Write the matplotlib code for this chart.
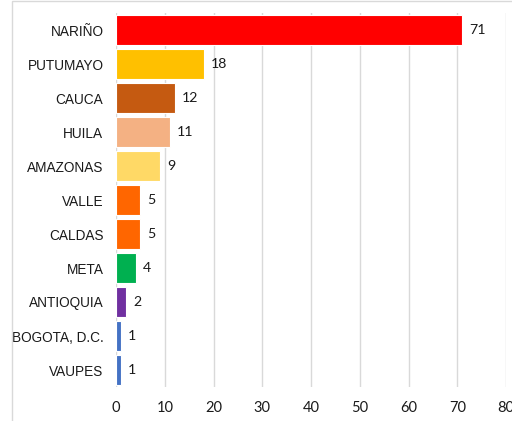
import matplotlib.pyplot as plt
from matplotlib.patches import Rectangle

# data
departamentos = ['NARIÑO', 'PUTUMAYO', 'CAUCA', 'HUILA', 'AMAZONAS', 'VALLE',
                 'CALDAS', 'META', 'ANTIOQUIA', 'BOGOTA, D.C.', 'VAUPES']
casos = [71, 18, 12, 11, 9, 5, 5, 4, 2, 1, 1]
colores = ['#FF0000', '#FFC000', '#C55A11', '#F4B183', '#FFD966', '#FF6600',
           '#FF6600', '#00B050', '#7030A0', '#4472C4', '#4472C4']
xticks = [0, 10, 20, 30, 40, 50, 60, 70, 80]

fig = plt.figure(figsize=(5.12, 4.21), dpi=100)
ax = fig.add_axes([116/512, 1 - 387/421, (506-116)/512, (387-13)/421])

pos = list(range(len(departamentos)))
ax.barh(pos, casos, height=0.9, color=colores, edgecolor='white', linewidth=0.8, zorder=3)

# value labels next to each bar
for p, v in zip(pos, casos):
    ax.text(v + 1.5, p, str(v), va='center', ha='left', fontsize=10.2,
            family=['Lato', 'DejaVu Sans'], color='#1a1a1a')

ax.set_ylim(len(departamentos) - 0.5, -0.5)
ax.set_xlim(0, 80)
ax.set_xticks(xticks)
ax.set_yticks(pos)
ax.set_yticklabels(departamentos, family=['Liberation Sans', 'DejaVu Sans'],
                   fontsize=9.8, color='#1a1a1a')
for lab in ax.get_xticklabels():
    lab.set_family(['Lato', 'DejaVu Sans'])
    lab.set_fontsize(10.5)
    lab.set_color('#1a1a1a')
ax.tick_params(axis='both', length=0)
ax.tick_params(axis='x', pad=10)
ax.tick_params(axis='y', pad=9)
ax.xaxis.grid(True, color='#D9D9D9', linewidth=1, zorder=0)
for s in ax.spines.values():
    s.set_visible(False)

# outer frame like the source image
fig.patches.append(Rectangle((12/512, -0.1), 1.2, 1 - 1/421 + 0.1, transform=fig.transFigure,
                             fill=False, edgecolor='#D9D9D9', linewidth=1))

plt.savefig('out.png', dpi=100)
